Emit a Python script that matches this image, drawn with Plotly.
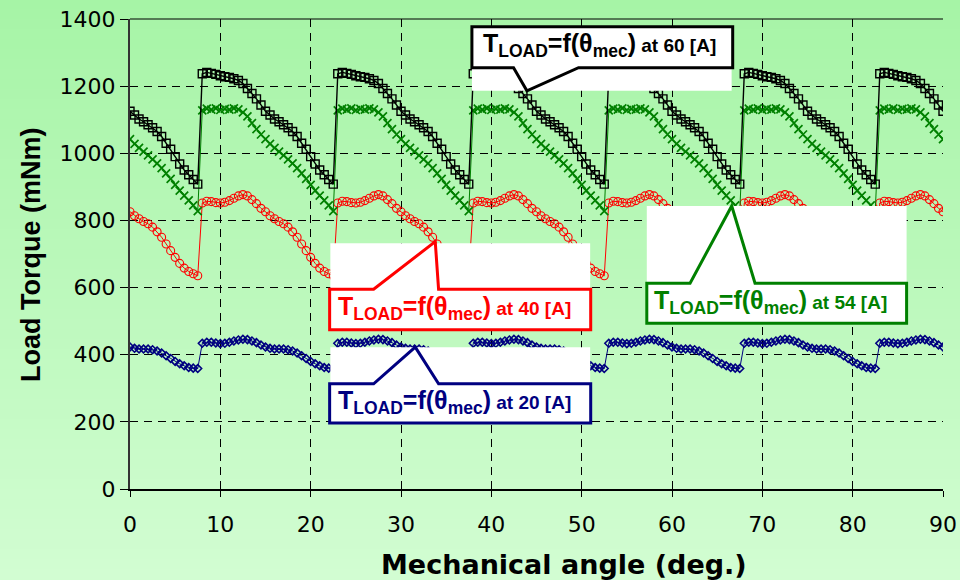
import numpy as np
import plotly.graph_objects as go

# Load torque over one 15-degree cycle, sampled every 0.5 deg (mNm)
cycle_angle = [0.0, 0.5, 1.0, 1.5, 2.0, 2.5, 3.0, 3.5, 4.0, 4.5, 5.0, 5.5, 6.0, 6.5, 7.0,
               7.5, 8.0, 8.5, 9.0, 9.5, 10.0, 10.5, 11.0, 11.5, 12.0, 12.5, 13.0, 13.5, 14.0, 14.5]

t60_cycle = [1125, 1114, 1102, 1094, 1085, 1076, 1065, 1050, 1030, 1012, 990, 968, 950, 936, 922,
             908, 1237, 1241, 1238, 1235, 1231, 1228, 1226, 1222, 1217, 1208, 1193, 1178, 1162, 1144]
t54_cycle = [1042, 1028, 1016, 1005, 994, 982, 970, 956, 940, 924, 906, 889, 874, 860, 845,
             828, 1128, 1133, 1130, 1134, 1129, 1132, 1130, 1134, 1131, 1122, 1110, 1090, 1072, 1056]
t40_cycle = [826, 814, 805, 797, 790, 780, 766, 750, 730, 710, 690, 672, 658, 648, 641,
             635, 852, 857, 856, 853, 852, 854, 859, 866, 873, 877, 873, 862, 850, 836]
t20_cycle = [423, 419, 417, 417, 417, 415, 411, 405, 397, 389, 380, 373, 367, 362, 360,
             359, 434, 437, 437, 435, 433, 434, 437, 441, 444, 446, 445, 441, 436, 429]

n_cycles = 6
x_ticks = [0, 10, 20, 30, 40, 50, 60, 70, 80, 90]
y_ticks = [0, 200, 400, 600, 800, 1000, 1200, 1400]


def unroll_angle(cyc):
    a = np.asarray(cyc, dtype=float)
    return np.concatenate([a + 15.0 * k for k in range(n_cycles)] + [[15.0 * n_cycles]])


def unroll(cyc):
    v = np.asarray(cyc, dtype=float)
    return np.concatenate([np.tile(v, n_cycles), v[:1]])


angle = unroll_angle(cycle_angle)

FONT = "Arial, Liberation Sans, sans-serif"
WIDE = "DejaVu Sans, Verdana, sans-serif"
GREEN = "#008000"
RED = "#ff0000"
NAVY = "#000080"
BLACK = "#000000"

fig = go.Figure()

series = [
    (t20_cycle, NAVY, "diamond-open", 6, 1.6, 1.0),
    (t40_cycle, RED, "circle-open", 8, 1.1, 1.0),
    (t54_cycle, GREEN, "x-thin-open", 8, 1.7, 1.0),
    (t60_cycle, BLACK, "square-open", 8, 1.4, 1.4),
]
for cyc, col, sym, msize, mlw, lw in series:
    fig.add_trace(go.Scatter(
        x=angle, y=unroll(cyc), mode="lines+markers",
        line=dict(color=col, width=lw),
        marker=dict(symbol=sym, size=msize, color=col, line=dict(color=col, width=mlw)),
        showlegend=False, hoverinfo="skip",
    ))

# Background gradient (darker green at top, paler at bottom)
L, R, T, B = 130, 17, 19, 91
W, H = 960, 580
pw, ph = W - L - R, H - T - B
shapes = []
n_bands = 58
top_rgb = np.array([166, 244, 166])
bot_rgb = np.array([210, 253, 210])
for i in range(n_bands):
    y0px = i * H / n_bands
    y1px = (i + 1) * H / n_bands
    f = (i + 0.5) / n_bands
    c = (top_rgb + (bot_rgb - top_rgb) * f).round().astype(int)
    shapes.append(dict(
        type="rect", xref="paper", yref="paper", layer="below",
        x0=(0 - L) / pw, x1=(W - L) / pw,
        y0=(H - B - y1px) / ph, y1=(H - B - y0px) / ph + 0.002,
        fillcolor="rgb(%d,%d,%d)" % tuple(c), line=dict(width=0),
    ))

# Callouts: white backing, then bordered box with a wedge pointing at the curve
callouts = [
    # colour, backing rect (x0,x1,y0,y1), border path, text centre, amps
    (BLACK, (37.85, 66.6, 1186, 1376.8),
     "M 37.85,1376.8 L 66.72,1376.8 L 66.72,1254.8 L 49.65,1254.8 L 43.94,1186 L 42.46,1254.8 L 37.85,1254.8 Z",
     (52.0, 1322), 60),
    (RED, (22.18, 50.94, 474, 732),
     "M 22.1,474 L 22.1,595 L 26.97,595 L 33.79,737 L 34.16,595 L 51.0,595 L 51.0,474 Z",
     (35.9, 539), 40),
    (NAVY, (22.18, 50.94, 196.4, 422.6),
     "M 22.1,196.4 L 22.1,313.4 L 26.97,313.4 L 31.58,422.6 L 34.16,313.4 L 51.0,313.4 L 51.0,196.4 Z",
     (35.9, 259), 20),
    (GREEN, (57.21, 85.97, 494, 843),
     "M 57.21,494 L 57.21,613 L 62.0,613 L 66.61,843 L 69.19,613 L 85.97,613 L 85.97,494 Z",
     (70.9, 558), 54),
]
annotations = []
for col, (bx0, bx1, by0, by1), path, (tx, ty), amps in callouts:
    shapes.append(dict(type="rect", xref="x", yref="y", layer="above",
                       x0=bx0, x1=bx1, y0=by0, y1=by1,
                       fillcolor="white", line=dict(width=0)))
    shapes.append(dict(type="path", xref="x", yref="y", layer="above", path=path,
                       fillcolor="rgba(0,0,0,0)", line=dict(color=col, width=3)))
    annotations.append(dict(
        x=tx, y=ty, xref="x", yref="y", showarrow=False,
        text="T<sub>LOAD</sub>=f(θ<sub>mec</sub>)<span style='font-size:19px'> at %d [A]</span>" % amps,
        font=dict(family=FONT, size=25, color=col, weight="bold"),
        xanchor="center", yanchor="middle",
    ))

# Top frame line
shapes.append(dict(type="line", xref="paper", yref="paper", x0=0, x1=1, y0=1, y1=1,
                   line=dict(color="black", width=1), layer="above"))

# Axis titles
annotations.append(dict(
    x=(564 - L) / pw, y=(H - B - 564) / ph, xref="paper", yref="paper", showarrow=False,
    text="Mechanical angle (deg.)", font=dict(family=WIDE, size=27, color="black", weight="bold"),
    xanchor="center", yanchor="middle"))
annotations.append(dict(
    x=(31 - L) / pw, y=(H - B - 255) / ph, xref="paper", yref="paper", showarrow=False,
    text="Load Torque (mNm)", textangle=-90,
    font=dict(family=FONT, size=27, color="black", weight="bold"),
    xanchor="center", yanchor="middle"))

fig.update_layout(
    width=W, height=H,
    margin=dict(l=L, r=R, t=T, b=B, pad=0, autoexpand=False),
    paper_bgcolor="rgb(190,249,190)",
    plot_bgcolor="rgba(0,0,0,0)",
    shapes=shapes,
    annotations=annotations,
    showlegend=False,
    xaxis=dict(
        range=[0, 90], tickvals=x_ticks, ticktext=[str(v) for v in x_ticks],
        showgrid=True, gridcolor="black", gridwidth=1, griddash="8px,6px",
        showline=True, linecolor="black", linewidth=1.5,
        ticks="outside", ticklen=6, tickcolor="black", tickwidth=1,
        ticklabelstandoff=9,
        tickfont=dict(family=WIDE, size=22, color="black"),
        zeroline=False, fixedrange=True, automargin=False,
    ),
    yaxis=dict(
        range=[0, 1400], tickvals=y_ticks, ticktext=[str(v) for v in y_ticks],
        showgrid=True, gridcolor="black", gridwidth=1, griddash="8px,6px",
        showline=True, linecolor="#333333", linewidth=2,
        ticks="outside", ticklen=8, tickcolor="black", tickwidth=1,
        tickfont=dict(family=WIDE, size=22, color="black"),
        zeroline=False, fixedrange=True, automargin=False,
    ),
)

fig.write_html("out.html")
